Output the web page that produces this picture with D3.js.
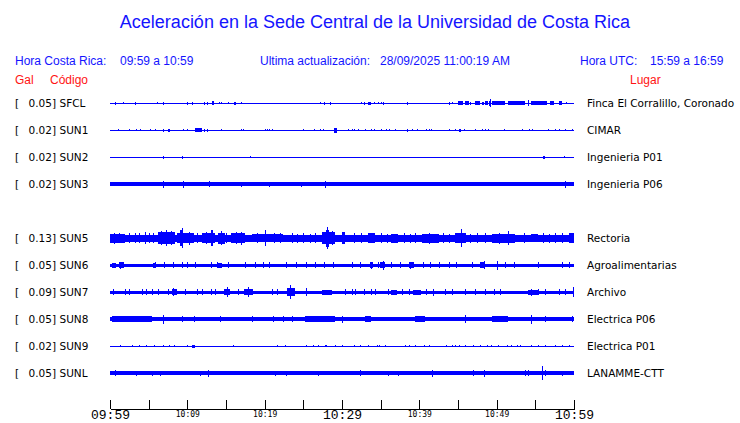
<!DOCTYPE html>
<html>
<head>
<meta charset="utf-8">
<script src="https://cdn.jsdelivr.net/npm/d3@7"></script>
<style>
	body { margin: 0; background: #fff; }
	svg { display: block; }
	.head { font-family: 'Liberation Sans', Arial, sans-serif; }
	.lbl { font-family: 'DejaVu Sans', sans-serif; font-size: 10.5px; fill: #000; }
	.tick text { font-family: 'DejaVu Sans Mono', monospace; fill: #000; }
	.tick text.big { font-family: 'Liberation Mono', 'DejaVu Sans Mono', monospace; }
</style>
</head>
<body>
<script>
// data
var stations = ['SFCL', 'SUN1', 'SUN2', 'SUN3', 'SUN5', 'SUN6', 'SUN7', 'SUN8', 'SUN9', 'SUNL'];
var slots = [0, 1, 2, 3, 5, 6, 7, 8, 9, 10]; // slot 4 (SUN4) is empty
var places = ['Finca El Corralillo, Coronado', 'CIMAR', 'Ingenieria P01', 'Ingenieria P06', 'Rectoria',
	'Agroalimentarias', 'Archivo', 'Electrica P06', 'Electrica P01', 'LANAMME-CTT'];
var peaks = [0.05, 0.02, 0.02, 0.02, 0.13, 0.05, 0.09, 0.05, 0.02, 0.05];
// background noise level of each trace (half amplitude)
var noise = [0.5, 0.5, 0.5, 2, 3.5, 1.5, 1.5, 2, 0.5, 2];

// bursts: [start minute, end minute, half amplitude]
var evSFCL = [[0.7,0.7,1.5],[1.7,1.7,1],[3.2,3.4,1.5],[6.1,6.1,1],[6.8,6.8,1.5],[9.9,9.9,1.5],[10.6,10.6,1.5],
	[12.2,12.2,1.5],[12.5,12.5,1.5],[13.2,13.5,2],[14.1,14.1,1],[14.4,14.4,1],[15.2,15.2,1],[16.0,16.0,1.5],
	[16.2,16.2,1.5],[16.9,16.9,1],[27.1,27.1,1],[27.7,27.7,1.5],[28.4,28.4,1.5],[32.5,32.5,1],[32.8,32.8,1.5],
	[33.4,33.7,1.5],[34.1,34.1,1],[34.6,34.6,1],[35.0,35.0,1],[35.3,35.3,1.5],[38.4,38.4,1.5],[43.9,43.9,1.5],
	[44.2,44.2,1],[45.0,45.7,2],[45.9,46.4,2],[46.5,46.7,1.5],[47.2,47.8,2],[48.1,48.3,1.5],[48.5,48.9,2],
	[49.0,49.3,2.5],[49.2,49.2,4],[49.4,51.1,2],[51.5,53.7,2],[54.1,54.1,3],[54.5,56.5,2],[56.9,57.4,2],
	[58.0,58.4,2],[59.0,59.0,1]];
var evSUN1 = [[1.0,1.0,1.2],[2.4,2.4,1],[3.4,3.4,1],[3.9,4.0,1.2],[5.2,5.2,1],[5.8,5.8,1],[6.8,6.8,1.5],
	[7.5,7.7,1.5],[9.4,9.4,1.2],[10.0,10.1,1.2],[11.0,11.9,2],[12.2,12.2,1.5],[12.5,12.6,1.5],[14.4,14.4,1],
	[17.0,17.0,1.2],[17.2,17.2,1],[20.0,20.0,1.2],[20.3,20.3,1.2],[20.6,20.6,1.2],[20.9,20.9,1],[24.9,24.9,1],
	[26.4,26.4,1.2],[27.2,27.2,1.2],[27.5,27.5,1],[29.0,29.4,2.5],[30.8,30.8,1],[31.3,31.3,1],[31.6,31.6,1],
	[32.1,32.1,1],[33.0,33.0,1.2],[33.8,33.8,1.2],[34.1,34.1,1],[35.0,35.0,1.2],[35.7,35.7,1],[36.1,36.1,1.2],
	[36.9,36.9,1],[38.4,38.4,1.5],[39.0,39.0,1],[39.7,39.7,1],[40.9,40.9,1.2],[41.3,41.3,1.2],[41.5,41.5,1],
	[43.9,43.9,1],[44.6,44.6,1.2],[45.1,45.4,1.5],[45.8,45.8,1],[47.2,47.2,1],[48.1,48.1,1],[48.5,48.5,1],
	[48.9,48.9,1],[50.9,50.9,1],[53.3,53.3,1],[54.2,54.2,1],[54.6,54.6,1],[56.6,56.6,1.2],[57.5,57.5,1.2],
	[58.1,58.1,1],[58.9,59.0,1.2],[59.7,59.7,1]];
var evSUN2 = [[6.8,6.8,1.5],[9.3,9.5,1.5],[18.1,18.1,1],[56.0,56.3,1.5],[58.7,58.7,1]];
var evSUN3 = [[6.8,6.8,3.5],[9.4,9.4,3.5],[12.8,12.8,3],[16.9,16.9,2.5],[20.5,20.5,2.5],[24.7,24.7,2.5],
	[27.8,27.8,3.5],[58.8,58.8,3.5]];
var evSUN5 = [[0,1.9,4.5],[0.5,0.5,5.5],[1.2,1.2,5],[2.5,2.5,5],[3.2,3.3,5],[3.8,3.8,5],[4.5,4.6,6],[5.1,5.1,5],
	[5.6,5.7,5],[6.25,8.4,6],[6.6,6.6,7],[7.2,7.4,8],[7.9,7.9,7],[8.6,10.8,5],[9.1,9.5,8],[9.35,9.4,10],
	[10.2,10.2,6.5],[11.2,11.2,5],[11.9,13.6,5],[12.4,12.4,6],[13.1,13.3,8],[14.0,14.9,5.5],[14.4,14.4,7],
	[15.0,15.0,5],[15.7,17.5,5],[16.3,16.3,6],[17.0,17.1,6.5],[18.3,22.4,4.2],[19.0,19.0,5],[20.0,20.1,8],
	[21.2,21.2,5],[22.0,22.0,5],[23.5,23.5,5],[24.2,24.2,4.5],[25.0,25.0,5],[25.8,25.8,4.5],[26.5,26.5,5],
	[27.4,29.1,6],[27.9,28.3,8.5],[28.1,28.15,11],[28.7,28.7,7],[30.0,30.4,6],[31.5,31.5,5],[32.5,32.5,5],
	[33.4,34.3,5],[35.0,35.0,5],[35.8,35.8,4.5],[36.4,37.3,4.5],[38.0,38.0,5],[38.8,38.8,4.5],[39.5,39.5,5],
	[40.3,42.5,4.5],[41.2,41.2,5.5],[43.0,43.0,5],[43.8,43.8,4.5],[44.6,46.0,5],[45.4,45.45,9],[46.6,46.6,4.5],
	[47.5,47.5,5],[48.5,48.5,5],[49.4,52.4,4.5],[50.3,50.3,5.5],[51.5,51.6,7],[53.5,53.5,5],[54.5,55.3,4],
	[56.0,56.0,5],[56.8,56.8,4.5],[57.5,57.5,5],[58.5,58.5,5],[59.4,60,5]];
var evSUN6 = [[0.3,0.8,2.5],[1.2,1.8,3],[1.3,1.3,3.5],[5.6,6.0,2.5],[5.8,5.8,3],[7.0,7.0,3],[8.2,8.2,3],
	[9.3,9.3,3],[10.0,10.0,3],[11.0,11.0,3],[13.1,13.1,3],[13.8,13.8,3],[14.0,14.5,2.5],[15.3,15.3,3],
	[17.5,17.5,3],[18.8,18.8,3],[19.8,19.8,3],[20.5,20.5,3],[22.8,22.8,3],[24.1,24.1,3],[25.4,25.4,3],
	[26.5,26.5,3],[27.7,27.7,3],[28.9,28.9,3],[31.3,31.3,3],[32.3,32.3,3],[33.6,34.0,3],[33.8,33.8,3.5],
	[34.7,34.7,3],[34.9,35.5,3],[35.3,35.3,4.5],[36.3,36.3,3],[37.5,37.5,3],[38.6,39.3,3],[38.8,38.8,3.5],
	[40.5,40.5,3],[41.4,41.4,3],[42.5,42.5,3],[43.8,43.8,3],[44.8,44.8,3],[46.8,46.8,3],[47.9,48.5,3],
	[48.3,48.3,4],[50.1,50.1,4.5],[51.1,51.1,3],[52.2,52.2,3],[55.4,55.4,3],[58.4,58.4,3],[59.3,59.3,3]];
var evSUN7 = [[0.4,0.4,3],[1.9,1.9,3],[2.4,2.4,3],[4.1,4.1,3],[4.7,4.7,3],[5.4,5.4,3],[6.2,6.2,3],[7.5,7.5,3],
	[8.0,8.7,3],[8.2,8.2,4],[9.7,9.7,3],[11.2,11.2,3],[11.9,11.9,3],[13.1,13.1,3],[13.6,13.6,3],[14.8,15.5,3],
	[15.1,15.1,5],[16.6,16.6,3],[17.3,18.5,3],[17.9,17.9,5],[20.9,20.9,3],[21.6,21.6,3],[22.9,23.9,4],
	[23.3,23.4,7],[25.4,25.4,4],[27.4,28.7,2.5],[30.4,30.4,3],[31.3,31.3,3],[31.7,31.7,3],[32.8,32.8,3],
	[33.8,33.8,3],[34.3,34.3,3],[36.0,36.0,3],[36.4,37.1,2.5],[37.7,37.7,3],[38.6,38.6,3],[39.2,40.2,2.5],
	[40.9,40.9,3],[41.8,41.8,3.5],[43.3,43.3,3],[44.2,44.2,3],[45.9,45.9,3],[47.2,47.2,3],[48.5,48.5,3],
	[49.6,49.6,3],[50.4,50.4,3],[54.0,55.3,2.5],[54.5,54.5,3.5],[55.4,55.4,3],[56.3,56.3,3],[58.0,58.0,3],
	[58.8,58.8,3],[59.9,59.9,5]];
var evSUN8 = [[0.2,5.4,2.6],[6.8,6.8,4.5],[9.3,9.3,3],[10.8,10.8,3],[14.2,14.2,3],[18.3,18.3,3],[21.1,21.1,3],
	[22.4,22.4,3],[23.5,23.5,3],[25.2,29.1,2.8],[30.0,30.0,3.5],[33.0,33.8,2.8],[39.4,40.7,2.8],[45.9,45.9,4],
	[49.4,51.5,3],[54.5,54.5,4.5],[56.3,56.3,3],[59.7,59.7,3]];
var evSUN9 = [[1.3,1.3,1],[2.8,2.8,1],[3.8,3.8,1],[4.7,4.7,1],[5.7,5.7,1],[6.8,6.8,1],[7.6,7.6,1],[8.3,8.3,1],
	[9.9,9.9,1],[10.6,11.0,1.5],[15.9,15.9,1],[21.6,21.6,1],[22.6,22.6,1],[25.3,25.3,1],[26.3,26.3,1],
	[26.9,26.9,1],[27.8,28.1,1.2],[29.1,29.1,1],[30.0,30.0,1],[31.5,31.5,1],[32.3,32.3,1],[33.4,33.4,1],
	[34.5,34.5,1],[34.8,34.8,1],[35.6,35.6,1],[38.2,38.2,1],[38.7,38.7,1],[39.4,39.4,1],[40.6,40.6,1],
	[41.2,41.2,1],[43.5,43.5,1],[44.2,44.2,1],[44.6,44.6,1],[45.1,45.1,1],[45.9,45.9,1],[47.0,47.0,1],
	[47.8,47.8,1],[48.7,48.7,1],[49.3,49.3,1],[50.2,50.2,1],[51.3,51.3,1],[51.9,51.9,1],[52.6,52.6,1],
	[53.0,53.0,1],[54.5,54.5,1],[55.4,55.4,1],[56.3,56.3,1],[57.5,57.5,1],[58.4,58.4,1],[59.3,59.3,1]];
var evSUNL = [[0.6,0.6,3],[3.4,3.4,2.5],[5.4,5.4,2.5],[6.5,6.5,2.5],[11.6,11.6,2.5],[12.7,12.7,3.5],
	[21.3,21.3,2.5],[22.8,22.8,2.5],[26.9,26.9,2.5],[32.3,32.3,3],[36.0,36.0,2.5],[37.3,37.3,2.5],
	[41.6,41.6,3.5],[47.0,47.0,3],[48.3,48.3,3.5],[53.7,53.7,3],[54.0,54.0,3],[55.8,55.8,7],[56.3,56.3,3],
	[58.4,58.4,2.5]];
var events = [evSFCL, evSUN1, evSUN2, evSUN3, evSUN5, evSUN6, evSUN7, evSUN8, evSUN9, evSUNL];

var tStart = new Date(2025, 8, 28, 9, 59);
var tEnd = new Date(2025, 8, 28, 10, 59);
var bigLabels = ['09:59', '10:29', '10:59'];

// chart
var width = 740, height = 423;
var svg = d3.select('body').append('svg')
	.attr('width', width)
	.attr('height', height);

var x = d3.scaleTime().domain([tStart, tEnd]).range([110, 574]);
var row = d3.scalePoint().domain(d3.range(11)).range([103, 373]);
var amp = d3.scaleLinear().domain([0, 10]).range([0, 10]);
function at (m) { return new Date(tStart.getTime() + m * 60000); }

// header
svg.append('text').attr('class', 'head')
	.attr('x', 375).attr('y', 28)
	.attr('text-anchor', 'middle')
	.attr('font-size', '18px').attr('fill', '#1414ff')
	.text('Aceleración en la Sede Central de la Universidad de Costa Rica');

var head = [
	['Hora Costa Rica:', 15], ['09:59 a 10:59', 120],
	['Ultima actualización:', 260], ['28/09/2025 11:00:19 AM', 380],
	['Hora UTC:', 580], ['15:59 a 16:59', 650]
];
svg.selectAll('.hd').data(head).enter().append('text')
	.attr('class', 'head hd')
	.attr('x', d => d[1]).attr('y', 65)
	.attr('font-size', '12px').attr('fill', '#1414ff')
	.text(d => d[0]);

var sub = [['Gal', 15], ['Código', 50], ['Lugar', 630]];
svg.selectAll('.sb').data(sub).enter().append('text')
	.attr('class', 'head sb')
	.attr('x', d => d[1]).attr('y', 84)
	.attr('font-size', '12px').attr('fill', '#ff1414')
	.text(d => d[0]);

// traces
var tr = svg.selectAll('.trace').data(stations).enter().append('g')
	.attr('class', 'trace')
	.attr('transform', (d, i) => 'translate(0,' + row(slots[i]) + ')')
	.attr('shape-rendering', 'crispEdges');

tr.append('rect')
	.attr('x', x(tStart))
	.attr('width', x(tEnd) - x(tStart))
	.attr('y', (d, i) => -Math.max(amp(noise[i]), 0.5))
	.attr('height', (d, i) => Math.max(2 * amp(noise[i]), 1))
	.attr('fill', 'blue');

tr.selectAll('.ev').data((d, i) => events[i]).enter().append('rect')
	.attr('class', 'ev')
	.attr('x', d => x(at(d[0])))
	.attr('width', d => Math.max(1, x(at(d[1])) - x(at(d[0]))))
	.attr('y', d => -amp(d[2]))
	.attr('height', d => 2 * amp(d[2]))
	.attr('fill', 'blue');

// left labels
tr.append('text').attr('class', 'lbl')
	.attr('x', 15).attr('dy', '0.35em')
	.text('[');
tr.append('text').attr('class', 'lbl')
	.attr('x', 56).attr('dy', '0.35em')
	.attr('text-anchor', 'end')
	.text((d, i) => peaks[i].toFixed(2) + ']');
tr.append('text').attr('class', 'lbl')
	.attr('x', 59.5).attr('dy', '0.35em')
	.text(d => d);
tr.append('text').attr('class', 'lbl')
	.attr('x', 587).attr('dy', '0.35em')
	.text((d, i) => places[i]);

// axis
var fmt = d3.timeFormat('%H:%M');
var x_axis = d3.axisBottom(x)
	.tickValues(d3.range(0, 61, 5).map(at))
	.tickSizeInner(-9)
	.tickSizeOuter(0)
	.tickPadding(0)
	.tickFormat(d => (d.getMinutes() % 10 === 9) ? fmt(d) : '');

var ax = svg.append('g')
	.attr('class', 'x axis')
	.attr('transform', 'translate(0,409)')
	.call(x_axis);
ax.select('.domain').attr('stroke', '#000').attr('shape-rendering', 'crispEdges');
ax.selectAll('.tick line').attr('stroke', '#000').attr('shape-rendering', 'crispEdges');
ax.selectAll('.tick text')
	.classed('big', d => bigLabels.indexOf(fmt(d)) >= 0)
	.attr('font-size', function (d) { return bigLabels.indexOf(fmt(d)) >= 0 ? '13px' : '8px'; })
	.attr('dy', '0.71em')
	.attr('y', function (d) { return bigLabels.indexOf(fmt(d)) >= 0 ? 0.5 : 2.5; });
</script>
</body>
</html>
